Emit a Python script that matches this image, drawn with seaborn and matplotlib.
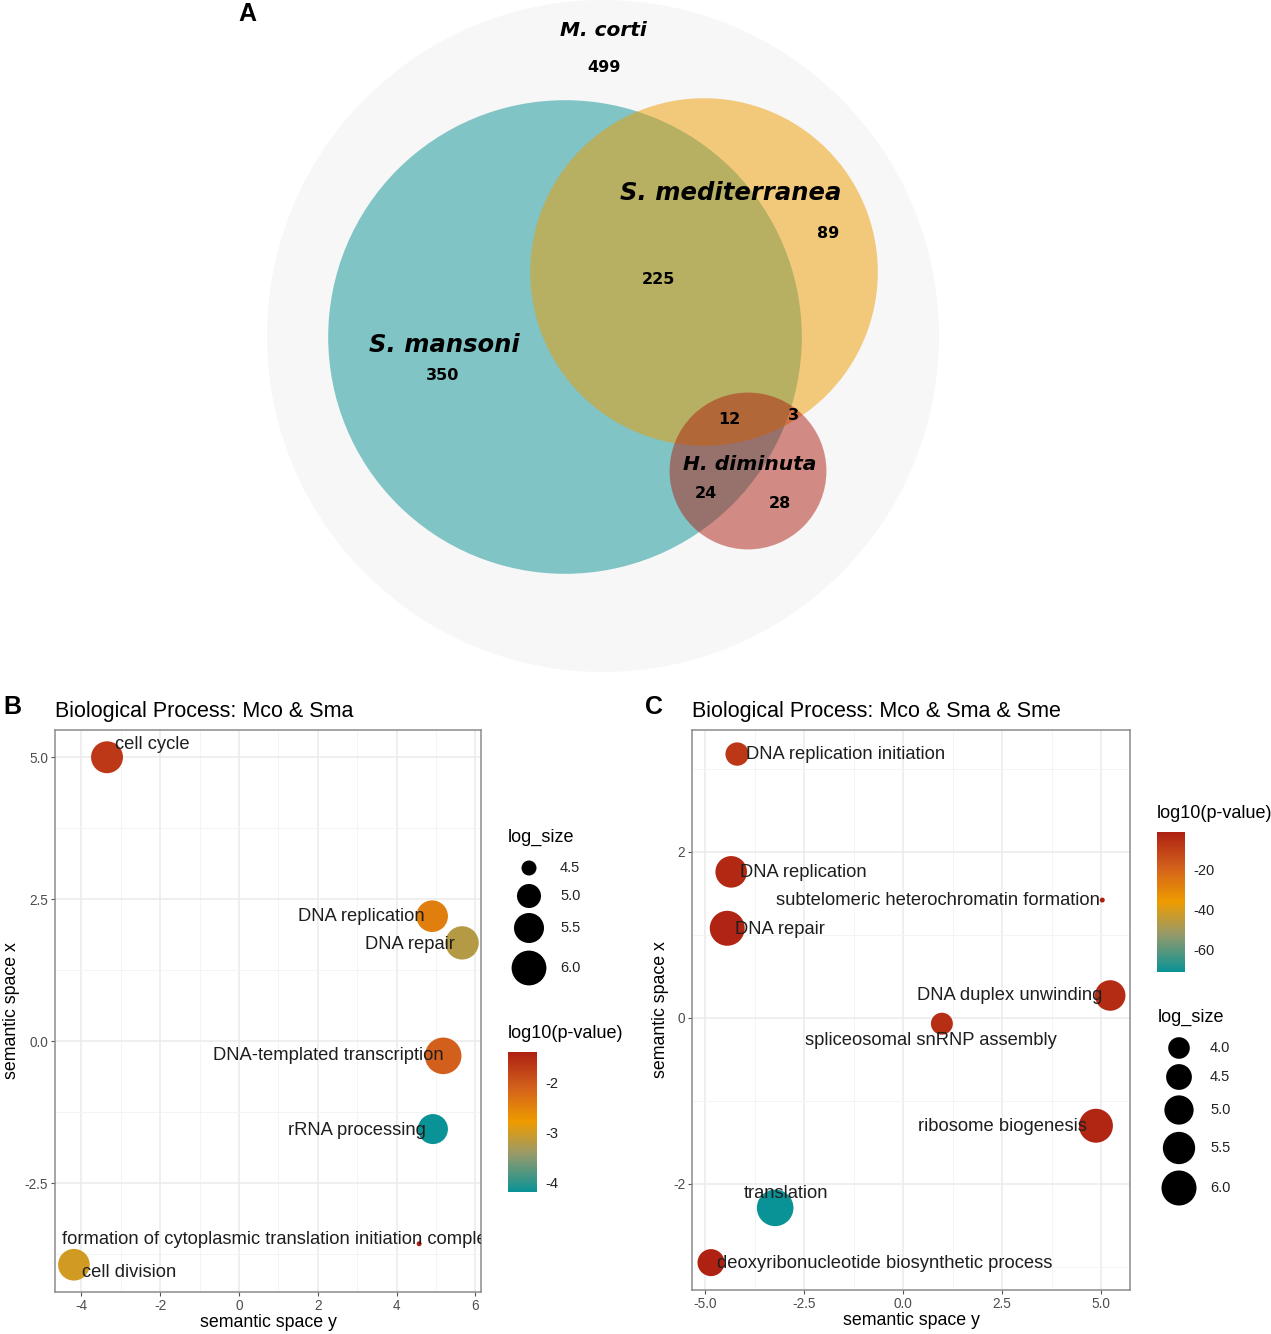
import numpy as np
import pandas as pd
import matplotlib
matplotlib.use("Agg")
import matplotlib.pyplot as plt
import seaborn as sns
from matplotlib.colors import LinearSegmentedColormap, Normalize
from matplotlib.cm import ScalarMappable
from matplotlib.patches import Circle

# venn region counts (every region sits inside M. corti)
venn_regions = ["Mco", "Mco&Sma", "Mco&Sma&Sme", "Mco&Sme",
                "Mco&Sma&Sme&Hdi", "Mco&Sme&Hdi", "Mco&Sma&Hdi", "Mco&Hdi"]
venn_counts = [499, 350, 225, 89, 12, 3, 24, 28]
venn_codes = ["Mco", "Sma", "Sme", "Hdi"]
venn_names = ["M. corti", "S. mansoni", "S. mediterranea", "H. diminuta"]

# panel B: Mco & Sma
b_terms = ["cell cycle", "DNA replication", "DNA repair", "DNA-templated transcription",
           "rRNA processing", "formation of cytoplasmic translation initiation complex",
           "cell division"]
b_space_y = [-3.35, 4.90, 5.66, 5.18, 4.92, 4.57, -4.19]
b_space_x = [5.00, 2.20, 1.73, -0.26, -1.55, -3.57, -3.94]
b_log_size = [5.69, 5.66, 5.84, 6.21, 5.50, 4.31, 5.66]
b_log_p = [-1.65, -2.44, -3.20, -2.09, -4.18, -1.38, -2.99]

# panel C: Mco & Sma & Sme
c_terms = ["DNA replication initiation", "DNA replication",
           "subtelomeric heterochromatin formation", "DNA repair", "DNA duplex unwinding",
           "spliceosomal snRNP assembly", "ribosome biogenesis", "translation",
           "deoxyribonucleotide biosynthetic process"]
c_space_y = [-4.19, -4.34, 5.03, -4.44, 5.23, 0.98, 4.87, -3.23, -4.85]
c_space_x = [3.18, 1.76, 1.42, 1.08, 0.27, -0.07, -1.30, -2.29, -2.95]
c_log_size = [4.20, 5.38, 3.12, 5.99, 5.21, 4.04, 5.80, 6.31, 4.67]
c_log_p = [-8.0, -4.0, -1.7, -3.0, -5.0, -6.0, -3.5, -70.9, -2.5]

# legend break values
b_size_breaks = [4.5, 5.0, 5.5, 6.0]
c_size_breaks = [4.0, 4.5, 5.0, 5.5, 6.0]
b_p_breaks = [-2, -3, -4]
c_p_breaks = [-20, -40, -60]

# consts
W, H = 1271, 1334
DPI = 100
R_MIN, R_MAX = 2.5, 18.3  # point radius range in px
TEAL, ORANGE, RED = "#0A9396", "#EE9B00", "#AE2012"
cmap = LinearSegmentedColormap.from_list(
    "pval", [(0, TEAL), (0.27, "#979a6a"), (0.5, ORANGE), (0.75, "#d2601c"), (1, RED)])

sns.set_theme(style="white")
plt.rcParams["font.family"] = ["Liberation Sans", "DejaVu Sans"]
plt.rcParams["axes.unicode_minus"] = False
plt.rcParams["text.color"] = "black"
plt.rcParams["axes.labelcolor"] = "black"

fig = plt.figure(figsize=(W / DPI, H / DPI), dpi=DPI)


def fig_rect(left, top, right, bottom):
    return [left / W, 1 - bottom / H, (right - left) / W, (bottom - top) / H]


def radius(v, vmin, vmax):
    t = np.clip((np.asarray(v, float) - vmin) / (vmax - vmin), 0, 1)
    return R_MIN + (R_MAX - R_MIN) * np.sqrt(t)


def area(r):
    # px radius -> scatter area in pt^2
    return (2 * r * 72 / DPI) ** 2


# overlay axes in pixel units (venn + legends + panel letters)
ov = fig.add_axes([0, 0, 1, 1])
ov.set_xlim(0, W)
ov.set_ylim(H, 0)
ov.axis("off")
ov.patch.set_visible(False)

# ---- A: venn ----
set_totals = [sum(c for reg, c in zip(venn_regions, venn_counts) if code in reg.split("&"))
              for code in venn_codes]
k = 336 / np.sqrt(set_totals[0])
centers = {"Mco": (603, 336), "Sma": (565, 337), "Sme": (704, 272), "Hdi": (748, 471)}
fills = {"Mco": ("#f7f7f7", 1.0), "Sma": (TEAL, 0.5), "Sme": (ORANGE, 0.5), "Hdi": (RED, 0.5)}
for code, tot in zip(venn_codes, set_totals):
    col, al = fills[code]
    ov.add_patch(Circle(centers[code], k * np.sqrt(tot), facecolor=col, alpha=al,
                        edgecolor="none", zorder=1))

name_pos = {"Mco": (603, 31), "Sma": (444, 345), "Sme": (731, 193), "Hdi": (750, 465)}
name_size = {"Mco": 14.5, "Sma": 17.5, "Sme": 17.5, "Hdi": 14.6}
for code, name in zip(venn_codes, venn_names):
    ov.text(*name_pos[code], name, ha="center", va="center", fontsize=name_size[code],
            fontweight="bold", fontstyle="italic", family="DejaVu Sans", color="black",
            zorder=3)
count_pos = [(604, 68), (443, 375), (658, 279), (828, 233), (729, 420), (793, 415),
             (706, 494), (780, 504)]
for (px, py), c in zip(count_pos, venn_counts):
    ov.text(px, py, str(c), ha="center", va="center", fontsize=11.5, fontweight="bold",
            family="DejaVu Sans", color="black", zorder=3)

for letter, (px, py) in zip("ABC", [(247, 14), (12, 707), (654, 707)]):
    ov.text(px, py, letter, ha="center", va="center", fontsize=18, fontweight="bold",
            color="black")


# ---- B / C: semantic space scatter ----
def semantic_panel(rect, terms, sy, sx, lsize, lp, title, xlim, ylim, xticks, yticks,
                   xminor, yminor, xfmt, yfmt, labels):
    ax = fig.add_axes(rect)
    df = pd.DataFrame({"term": terms, "space_y": sy, "space_x": sx,
                       "log_size": lsize, "log_p": lp})
    vmin, vmax = df.log_size.min(), df.log_size.max()
    size_map = {v: area(radius(v, vmin, vmax)) for v in df.log_size}
    sns.scatterplot(data=df, x="space_y", y="space_x", hue="log_p", palette=cmap,
                    hue_norm=(df.log_p.min(), df.log_p.max()), size="log_size",
                    sizes=size_map, linewidth=0, legend=False, ax=ax, zorder=3)
    for term, (tx, ty, ha) in zip(terms, labels):
        ax.text(tx, ty, term, ha=ha, va="center", fontsize=13.2, color="#1e1e1e",
                zorder=4, clip_on=True)
    ax.set_xlim(*xlim)
    ax.set_ylim(*ylim)
    ax.set_xticks(xticks)
    ax.set_xticklabels([xfmt.format(v) for v in xticks])
    ax.set_yticks(yticks)
    ax.set_yticklabels([yfmt.format(v) for v in yticks])
    ax.set_xticks(xminor, minor=True)
    ax.set_yticks(yminor, minor=True)
    ax.grid(True, which="major", color="#ebebeb", lw=1.1, zorder=0)
    ax.grid(True, which="minor", color="#f3f3f3", lw=0.6, zorder=0)
    ax.set_axisbelow(True)
    ax.tick_params(which="major", direction="out", length=3, width=0.8, color="#555555",
                   labelsize=9.8, labelcolor="#4d4d4d", bottom=True, left=True, pad=2)
    ax.tick_params(which="minor", length=0)
    for sp in ax.spines.values():
        sp.set_color("#8c8c8c")
        sp.set_linewidth(1.1)
    ax.set_xlabel("semantic space y", fontsize=12.8, labelpad=1)
    ax.set_ylabel("semantic space x", fontsize=12.8, labelpad=3)
    ax.set_title(title, loc="left", fontsize=15.5, pad=9, color="black")
    return ax, vmin, vmax


b_labels = [(-3.15, 5.23, "left"), (4.72, 2.20, "right"), (5.48, 1.71, "right"),
            (5.18, -0.26, "right"), (4.75, -1.57, "right"), (-4.50, -3.50, "left"),
            (-3.98, -4.08, "left")]
axb, b_vmin, b_vmax = semantic_panel(
    fig_rect(55, 730, 481, 1292), b_terms, b_space_y, b_space_x, b_log_size, b_log_p,
    "Biological Process: Mco & Sma", (-4.67, 6.14), (-4.42, 5.48),
    [-4, -2, 0, 2, 4, 6], [-2.5, 0, 2.5, 5], [-3, -1, 1, 3, 5], [-3.75, -1.25, 1.25, 3.75],
    "{:g}", "{:.1f}", b_labels)

c_labels = [(-3.96, 3.17, "left"), (-4.12, 1.75, "left"), (4.97, 1.42, "right"),
            (-4.24, 1.07, "left"), (5.03, 0.27, "right"), (0.70, -0.27, "center"),
            (4.65, -1.31, "right"), (-2.95, -2.12, "center"), (-4.70, -2.96, "left")]
axc, c_vmin, c_vmax = semantic_panel(
    fig_rect(692, 730, 1130, 1290), c_terms, c_space_y, c_space_x, c_log_size, c_log_p,
    "Biological Process: Mco & Sma & Sme", (-5.33, 5.73), (-3.28, 3.47),
    [-5, -2.5, 0, 2.5, 5], [-2, 0, 2], [-3.75, -1.25, 1.25, 3.75], [-3, -1, 1, 3],
    "{:.1f}", "{:g}", c_labels)


# ---- legends ----
def size_legend(x0, title_y, ys, breaks, vmin, vmax):
    ov.text(x0, title_y, "log_size", ha="left", va="center", fontsize=13, color="black")
    cx = x0 + 21
    ov.scatter([cx] * len(breaks), ys, s=area(radius(breaks, vmin, vmax)),
               color="black", linewidth=0, zorder=3)
    for y, b in zip(ys, breaks):
        ov.text(x0 + 52, y, f"{b:.1f}", ha="left", va="center", fontsize=10.5,
                color="#222222")


def p_colorbar(rect, lp, breaks, title_xy):
    cax = fig.add_axes(rect)
    sm = ScalarMappable(norm=Normalize(min(lp), max(lp)), cmap=cmap)
    cb = fig.colorbar(sm, cax=cax, ticks=breaks)
    cb.outline.set_visible(False)
    cb.ax.set_yticklabels([str(b) for b in breaks])
    cb.ax.tick_params(direction="in", color="white", length=5, width=0.8, left=True,
                      right=True, labelleft=False, labelright=True, labelsize=10.5,
                      labelcolor="#222222", pad=6)
    ov.text(*title_xy, "log10(p-value)", ha="left", va="center", fontsize=13,
            color="black")


size_legend(508, 837, [868, 896, 928, 968], b_size_breaks, b_vmin, b_vmax)
p_colorbar(fig_rect(508, 1052, 537, 1192), b_log_p, b_p_breaks, (508, 1034))

p_colorbar(fig_rect(1157, 832, 1185, 972), c_log_p, c_p_breaks, (1157, 814))
size_legend(1158, 1017, [1048, 1077, 1110, 1148, 1188], c_size_breaks, c_vmin, c_vmax)

fig.savefig("out.png", dpi=DPI)
